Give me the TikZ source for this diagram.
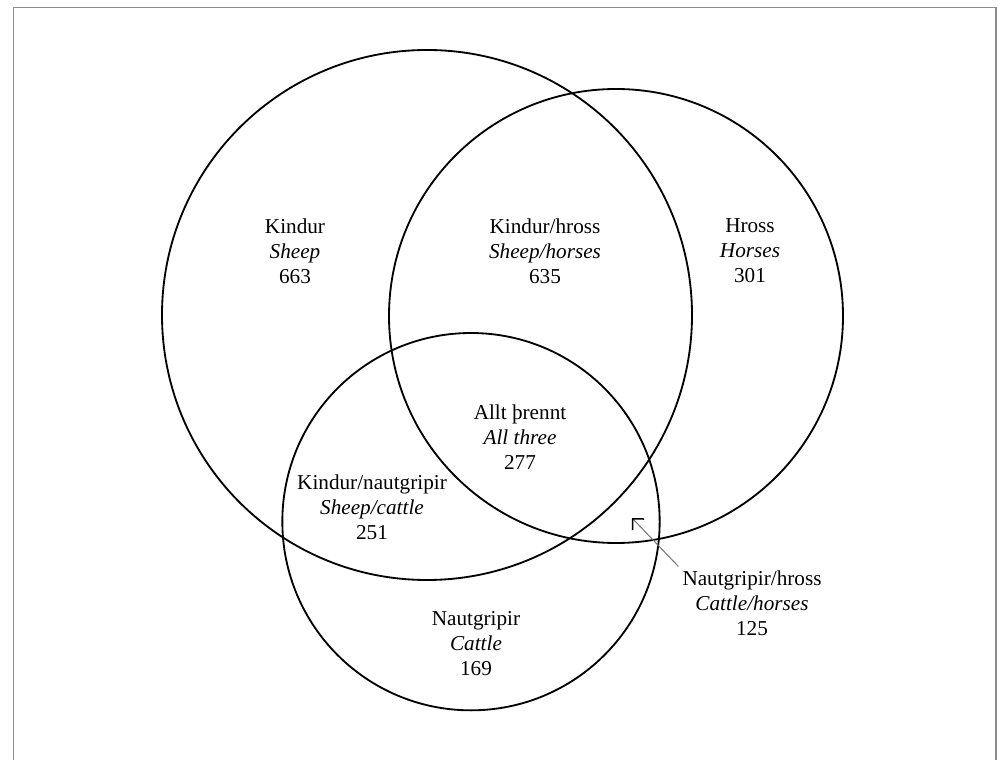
\documentclass[tikz,border=0pt]{standalone}
\usepackage{fontspec}
\setmainfont{Liberation Serif}
\usepackage{tikz}
\usepackage{xcolor}
\usetikzlibrary{
    arrows.meta,
    positioning
}
\definecolor{framegray}{RGB}{140,140,140}

\begin{document}
\begin{tikzpicture}[
        set/.style={draw, line width=0.55mm},
        lbl/.style={align=center, font=\fontsize{18.1}{21.3}\selectfont},
        pointer/.style={draw=black!55, line width=0.3mm, -{Straight Barb[length=2.4mm, width=4.8mm, line width=0.45mm, color=black]}}
    ]
                        \useasboundingbox (0, 0) rectangle (30.06, 22.8);
                        \draw[framegray, line width=0.45mm] (0.405, 0) -- (0.405, 22.575) -- (29.88, 22.575) -- (29.88, 0);

                        \draw[set] (12.81, 13.35) circle[radius=7.95cm];
                        \draw[set] (18.48, 13.32) circle[radius=6.81cm];
                        \draw[set] (14.13, 7.15) circle[radius=5.66cm];

                        \node[lbl] (ns) at (8.85, 15.27) {Kindur\\\textit{Sheep}\\663};
                        \node[lbl] (nsh) at (16.35, 15.27) {Kindur/hross\\\textit{Sheep/horses}\\635};
                        \node[lbl] (nh) at (22.5, 15.27) {Hross\\\textit{Horses}\\301};
                        \node[lbl] (nall) at (15.6, 9.69) {Allt þrennt\\\textit{All three}\\277};
                        \node[lbl] (nsc) at (11.16, 7.59) {Kindur/nautgripir\\\textit{Sheep/cattle}\\251};
                        \node[lbl] (nc) at (14.28, 3.48) {Nautgripir\\\textit{Cattle}\\169};
                        \node[lbl] (nch) at (22.56, 4.71) {Nautgripir/hross\\\textit{Cattle/horses}\\125};
                        \coordinate (tch) at (18.96, 7.26);

                        \draw
                        (nch.north west) edge[pointer] (tch);
                    \end{tikzpicture}
\end{document}
